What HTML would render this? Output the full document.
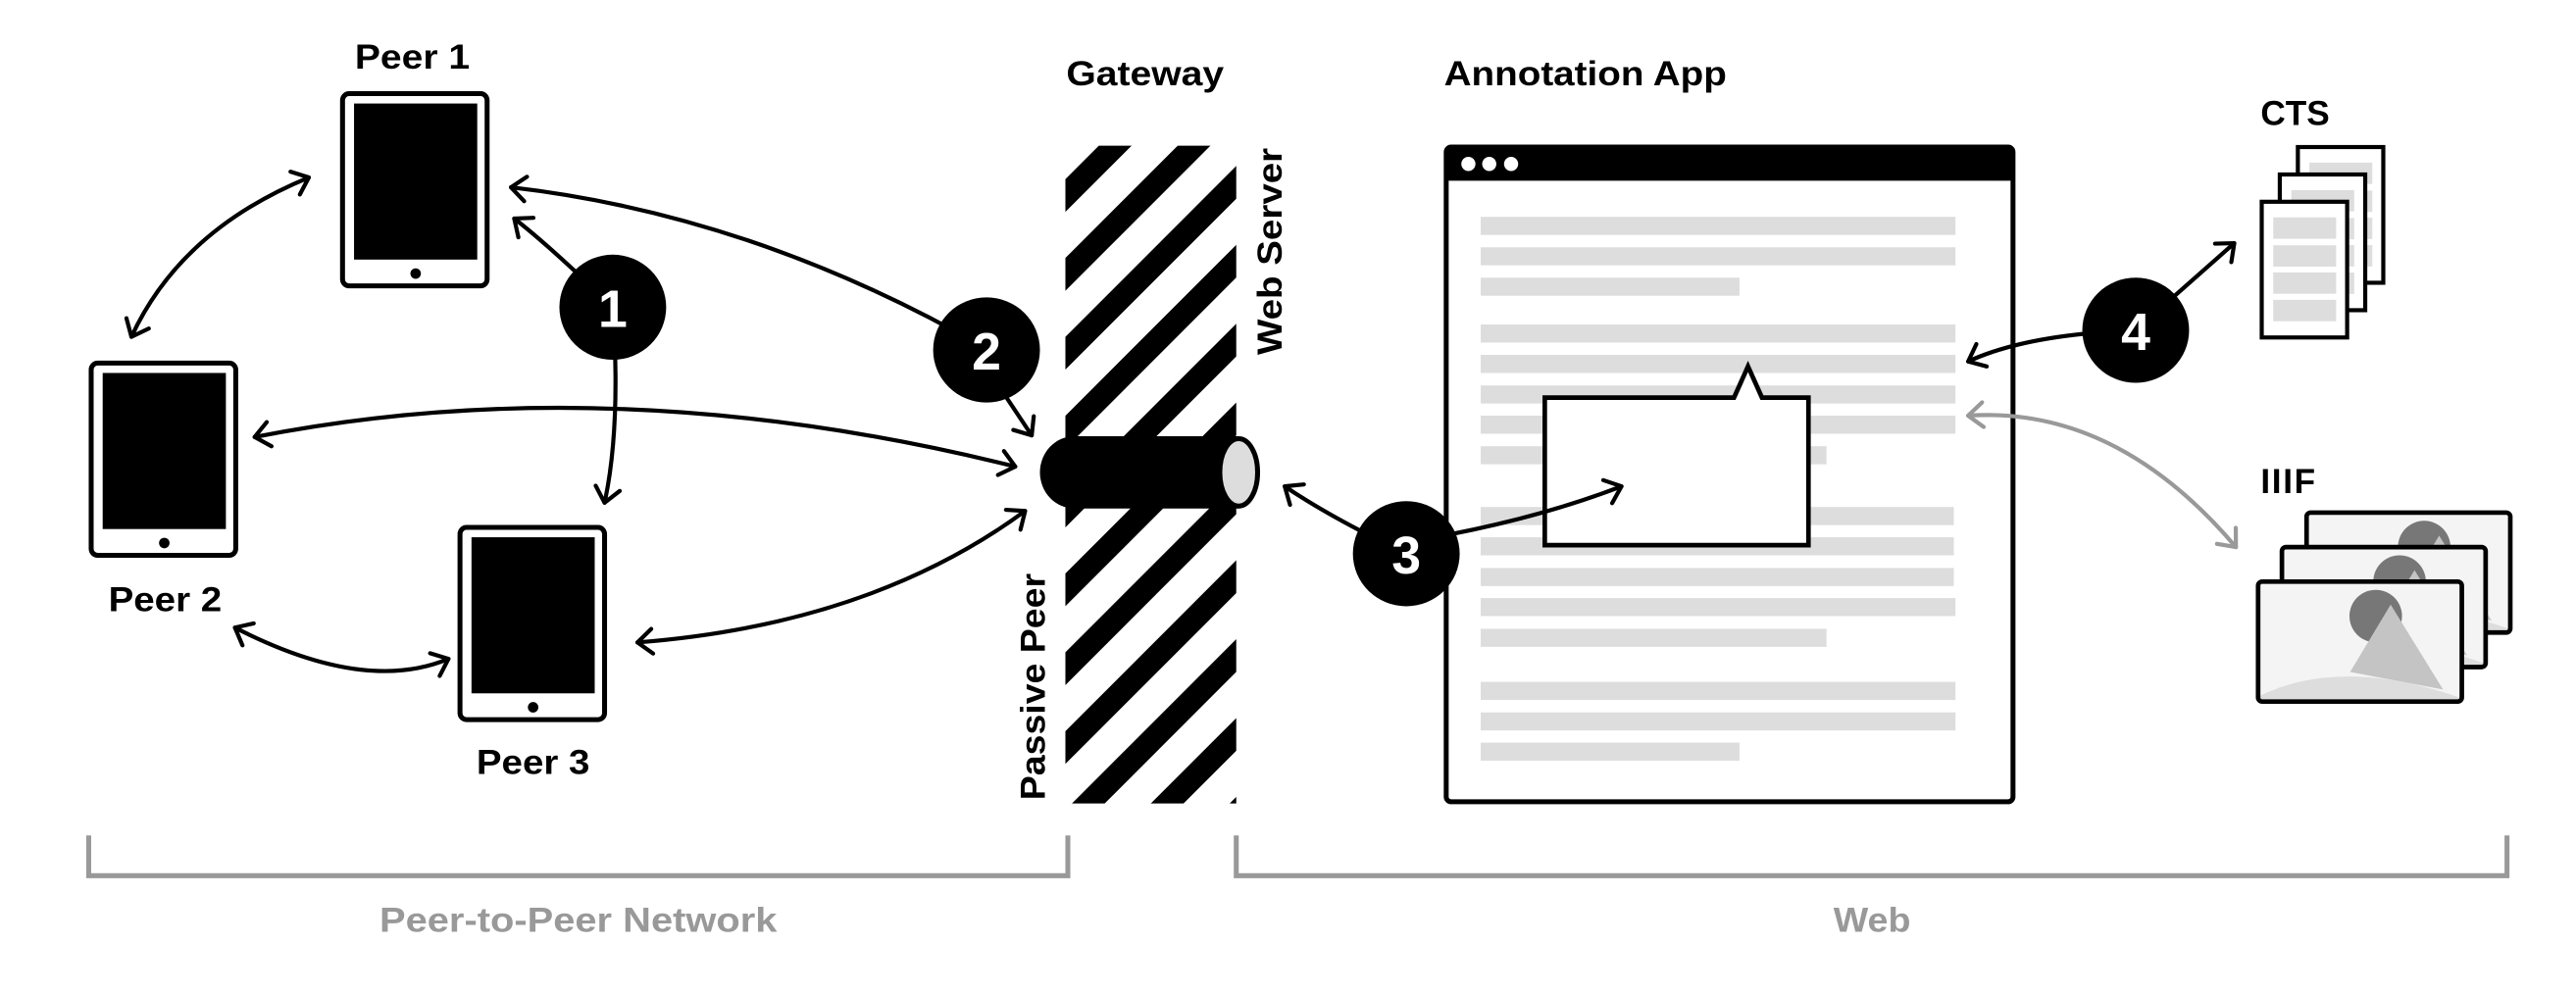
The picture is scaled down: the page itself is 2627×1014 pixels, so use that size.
<!DOCTYPE html>
<html><head><meta charset="utf-8"><style>
html,body{margin:0;padding:0;background:#fff;width:2627px;height:1014px;overflow:hidden;}
svg{display:block;}
text{font-family:"Liberation Sans Narrow","Liberation Sans",sans-serif;font-weight:bold;}
</style></head><body>
<svg width="2627" height="1014" viewBox="0 0 1568 605" preserveAspectRatio="none" xmlns="http://www.w3.org/2000/svg">
<defs>
<marker id="ah" viewBox="0 0 20 20" refX="10" refY="10" markerWidth="20" markerHeight="20" markerUnits="userSpaceOnUse" orient="auto-start-reverse" overflow="visible">
<path d="M1,2.5 L10,10 L1,17.5" fill="none" stroke="#000" stroke-width="2.5" stroke-linecap="round" stroke-linejoin="round"/>
</marker>
<marker id="ahg" viewBox="0 0 20 20" refX="10" refY="10" markerWidth="20" markerHeight="20" markerUnits="userSpaceOnUse" orient="auto-start-reverse" overflow="visible">
<path d="M1,2.5 L10,10 L1,17.5" fill="none" stroke="#999" stroke-width="2.5" stroke-linecap="round" stroke-linejoin="round"/>
</marker>
<clipPath id="gw"><rect x="648.5" y="88.7" width="104" height="400.3"/></clipPath>
<clipPath id="card"><rect x="0" y="0" width="124" height="73" rx="2"/></clipPath>
<g id="tab">
<rect x="0" y="0" width="88" height="117" rx="4" fill="#fff" stroke="#000" stroke-width="3"/>
<rect x="7" y="6" width="75" height="95" fill="#000"/>
<circle cx="44.5" cy="109.5" r="3.2" fill="#000"/>
</g>
<g id="page">
<rect x="0" y="0" width="52" height="82.6" fill="#fff" stroke="#000" stroke-width="2.5"/>
<rect x="7" y="9.5" width="38.3" height="13" fill="#ddd"/>
<rect x="7" y="26.5" width="38.3" height="13" fill="#ddd"/>
<rect x="7" y="43" width="38.3" height="13" fill="#ddd"/>
<rect x="7" y="59.7" width="38.3" height="13" fill="#ddd"/>
</g>
<g id="img">
<g clip-path="url(#card)">
<rect x="0" y="0" width="124" height="73" fill="#f4f4f4"/>
<circle cx="71.6" cy="21" r="16" fill="#777"/>
<polygon points="80.7,14 56,55 112.6,65.7" fill="#c4c4c4"/>
<path d="M0,73 L0,70 Q50,45 124,71 L124,73 Z" fill="#ddd"/>
</g>
<rect x="0" y="0" width="124" height="73" rx="2.5" fill="none" stroke="#000" stroke-width="2.8"/>
</g>
</defs>

<!-- labels -->
<text x="251" y="41.7" font-size="21" text-anchor="middle" textLength="70" lengthAdjust="spacingAndGlyphs">Peer 1</text>
<text x="100.5" y="372" font-size="21" text-anchor="middle" textLength="69" lengthAdjust="spacingAndGlyphs">Peer 2</text>
<text x="324.5" y="471" font-size="21" text-anchor="middle" textLength="69" lengthAdjust="spacingAndGlyphs">Peer 3</text>
<text x="649" y="52" font-size="21" textLength="96" lengthAdjust="spacingAndGlyphs">Gateway</text>
<text x="879" y="52" font-size="21" textLength="172" lengthAdjust="spacingAndGlyphs">Annotation App</text>
<text x="1376" y="76" font-size="21" textLength="42" lengthAdjust="spacingAndGlyphs">CTS</text>
<text x="1376" y="300" font-size="21" letter-spacing="1">IIIF</text>
<text transform="translate(780,216) rotate(-90)" font-size="21" textLength="126" lengthAdjust="spacingAndGlyphs">Web Server</text>
<text transform="translate(636,487) rotate(-90)" font-size="21" textLength="138" lengthAdjust="spacingAndGlyphs">Passive Peer</text>
<text x="352" y="567" font-size="21" text-anchor="middle" fill="#999" textLength="242" lengthAdjust="spacingAndGlyphs">Peer-to-Peer Network</text>
<text x="1139.5" y="567" font-size="21" text-anchor="middle" fill="#999" textLength="47" lengthAdjust="spacingAndGlyphs">Web</text>

<!-- brackets -->
<path d="M54,508.5 V533 H650 V508.5" fill="none" stroke="#999" stroke-width="3"/>
<path d="M752.5,508.5 V533 H1526 V508.5" fill="none" stroke="#999" stroke-width="3"/>

<!-- tablets -->
<use href="#tab" x="208.5" y="57"/>
<use href="#tab" x="55.5" y="221"/>
<use href="#tab" x="280" y="321"/>

<!-- gateway stripes -->
<g clip-path="url(#gw)" stroke="#000" stroke-width="14.1">
<line x1="550" y1="169.5" x2="850" y2="-130.5"/>
<line x1="550" y1="217.5" x2="850" y2="-82.5"/>
<line x1="550" y1="265.5" x2="850" y2="-34.5"/>
<line x1="550" y1="313.5" x2="850" y2="13.5"/>
<line x1="550" y1="361.5" x2="850" y2="61.5"/>
<line x1="550" y1="409.5" x2="850" y2="109.5"/>
<line x1="550" y1="457.5" x2="850" y2="157.5"/>
<line x1="550" y1="505.5" x2="850" y2="205.5"/>
<line x1="550" y1="553.5" x2="850" y2="253.5"/>
<line x1="550" y1="601.5" x2="850" y2="301.5"/>
<line x1="550" y1="649.5" x2="850" y2="349.5"/>
<line x1="550" y1="697.5" x2="850" y2="397.5"/>
<line x1="550" y1="745.5" x2="850" y2="445.5"/>
<line x1="550" y1="793.5" x2="850" y2="493.5"/>
</g>
<!-- cylinder -->
<path d="M654,265.5 H754 V309.5 H654 A21,22 0 0 1 654,265.5 Z" fill="#000"/>
<ellipse cx="754" cy="287.5" rx="11.5" ry="20.5" fill="#ddd" stroke="#000" stroke-width="3"/>

<!-- browser -->
<rect x="880.3" y="89.5" width="345" height="398.5" rx="3" fill="#fff" stroke="#000" stroke-width="3"/>
<rect x="880.3" y="89.5" width="345" height="20.5" rx="2" fill="#000"/>
<circle cx="893.8" cy="99.8" r="4.3" fill="#fff"/>
<circle cx="906.5" cy="99.8" r="4.3" fill="#fff"/>
<circle cx="919.8" cy="99.8" r="4.3" fill="#fff"/>
<g fill="#ddd">
<rect x="901.3" y="132" width="289" height="11"/>
<rect x="901.3" y="150.5" width="289" height="11"/>
<rect x="901.3" y="169" width="157.5" height="11"/>
<rect x="901.3" y="197.5" width="289" height="11"/>
<rect x="901.3" y="216" width="289" height="11"/>
<rect x="901.3" y="234.6" width="289" height="11"/>
<rect x="901.3" y="253" width="289" height="11"/>
<rect x="901.3" y="271.6" width="210.5" height="11"/>
<rect x="901.3" y="308.6" width="288" height="11"/>
<rect x="901.3" y="327" width="288" height="11"/>
<rect x="901.3" y="345.7" width="288" height="11"/>
<rect x="901.3" y="364" width="289" height="11"/>
<rect x="901.3" y="382.7" width="210.5" height="11"/>
<rect x="901.3" y="415" width="289" height="11"/>
<rect x="901.3" y="433.6" width="289" height="11"/>
<rect x="901.3" y="452" width="157.5" height="11"/>
</g>
<!-- speech bubble -->
<path d="M940.3,242 H1055.5 L1064,223 L1072.5,242 H1100.8 V331.8 H940.3 Z" fill="#fff" stroke="#000" stroke-width="2.8" stroke-linejoin="miter"/>

<!-- CTS pages -->
<use href="#page" x="1398.7" y="89.5"/>
<use href="#page" x="1387.7" y="106.2"/>
<use href="#page" x="1376.7" y="122.8"/>

<!-- IIIF images -->
<use href="#img" x="1404" y="312"/>
<use href="#img" x="1389" y="333"/>
<use href="#img" x="1374.5" y="354"/>

<!-- arrows -->
<g fill="none" stroke="#000" stroke-width="2.5" stroke-linecap="round">
<path d="M188,108 Q110,140 80,205" marker-start="url(#ah)" marker-end="url(#ah)"/>
<path d="M373,187 Q335,150 313,133" marker-end="url(#ah)"/>
<path d="M373,187 Q378,260 368,306" marker-end="url(#ah)"/>
<path d="M600,212 Q459,131 311,114" marker-end="url(#ah)"/>
<path d="M610,238 L628,265" marker-end="url(#ah)"/>
<path d="M155,266 Q373.5,223 618,284" marker-start="url(#ah)" marker-end="url(#ah)"/>
<path d="M388,391 Q530,380 624,311" marker-start="url(#ah)" marker-end="url(#ah)"/>
<path d="M143,382 Q222,422.5 273,401" marker-start="url(#ah)" marker-end="url(#ah)"/>
<path d="M856,337 Q810,315 782,296" marker-end="url(#ah)"/>
<path d="M856,330 Q930,318 987,296" marker-end="url(#ah)"/>
<path d="M1300,201 Q1335,170 1360,148" marker-end="url(#ah)"/>
<path d="M1300,201 Q1233.6,203.5 1198,220" marker-end="url(#ah)"/>
</g>
<path d="M1198,253 Q1288,247 1361,333" fill="none" stroke="#999" stroke-width="2.5" stroke-linecap="round" marker-start="url(#ahg)" marker-end="url(#ahg)"/>

<!-- numbered circles -->
<g>
<ellipse cx="373" cy="187" rx="32.5" ry="32" fill="#000"/>
<ellipse cx="600.5" cy="213" rx="32.5" ry="32" fill="#000"/>
<ellipse cx="856" cy="337" rx="32.5" ry="32" fill="#000"/>
<ellipse cx="1300" cy="201" rx="32.5" ry="32" fill="#000"/>
</g>
<g fill="#fff" font-size="32" text-anchor="middle">
<text x="373" y="199">1</text>
<text x="600.5" y="225">2</text>
<text x="856" y="349">3</text>
<text x="1300" y="213">4</text>
</g>
</svg>
</body></html>
